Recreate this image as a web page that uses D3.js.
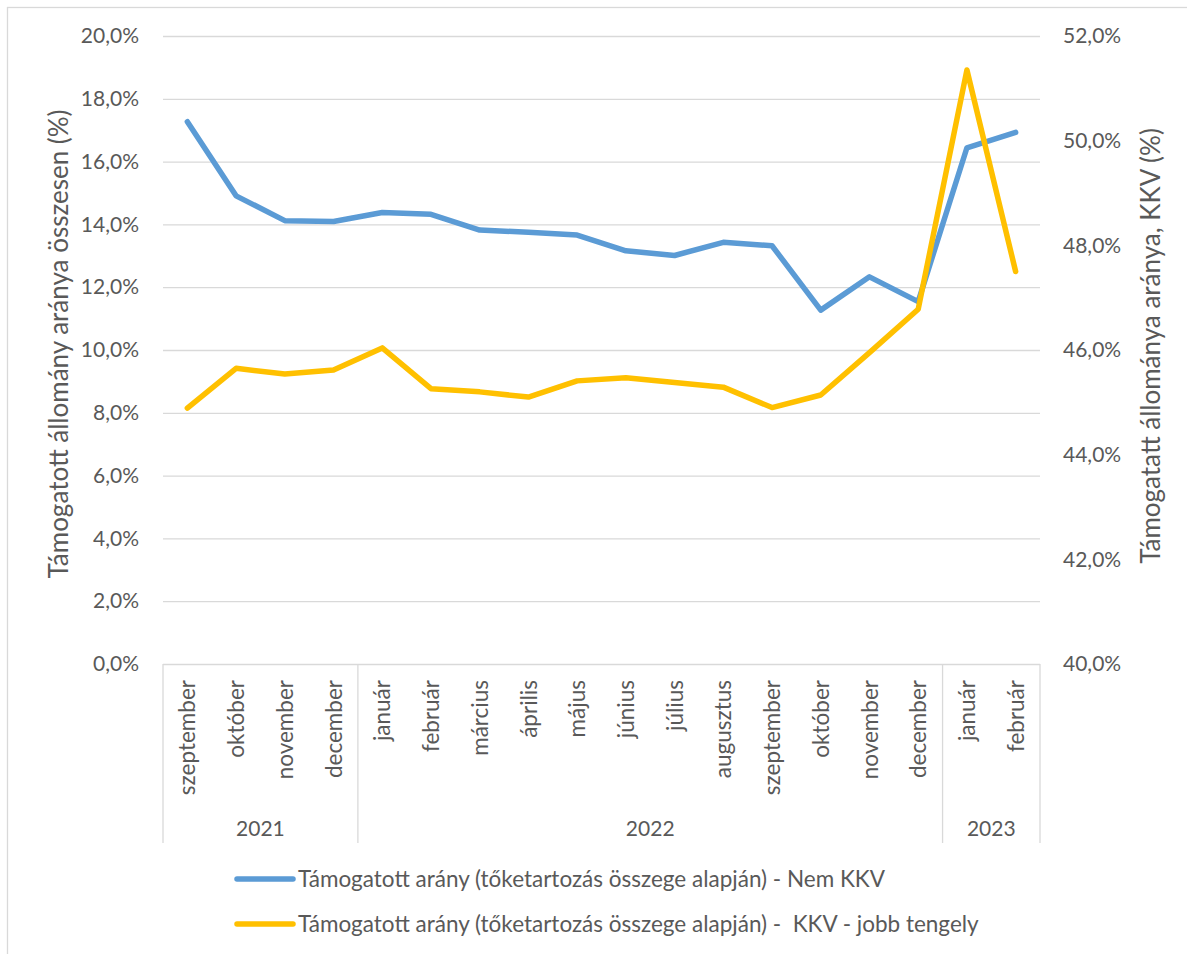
<!DOCTYPE html>
<html>
<head>
<meta charset="UTF-8">
<title>Támogatott arány</title>
<script src="https://d3js.org/d3.v7.min.js"></script>
<style>
  body { margin: 0; background: #fff; font-family: Lato, "Open Sans", sans-serif; }
  svg { display: block; }
  text { fill: #595959; }
</style>
</head>
<body>
<svg width="1187" height="954"></svg>
<script>
// months on the category axis, grouped by year
const monthLabels = ["szeptember", "október", "november", "december",
  "január", "február", "március", "április", "május", "június", "július",
  "augusztus", "szeptember", "október", "november", "december",
  "január", "február"];
const yearLabels = ["2021", "2022", "2023"];
const yearCounts = [4, 12, 2];

// left axis series (%)
const nemKkv = [17.27, 14.91, 14.12, 14.09, 14.38, 14.32, 13.82, 13.75, 13.66,
  13.16, 13.01, 13.43, 13.32, 11.27, 12.33, 11.54, 16.44, 16.93];
// right axis series (%)
const kkv = [44.89, 45.65, 45.54, 45.62, 46.04, 45.26, 45.20, 45.10, 45.41,
  45.47, 45.38, 45.29, 44.90, 45.14, 45.95, 46.78, 51.35, 47.50];

const leftTicks = [0, 2, 4, 6, 8, 10, 12, 14, 16, 18, 20];
const rightTicks = [40, 42, 44, 46, 48, 50, 52];

const seriesNames = [
  "Támogatott arány (tőketartozás összege alapján) - Nem KKV",
  "Támogatott arány (tőketartozás összege alapján) -  KKV - jobb tengely"
];
const colors = ["#5B9BD5", "#FFC000"];

const width = 1187, height = 954;
const x0 = 163, x1 = 1040, yTop = 36, yBot = 664;
const fsTick = 21, fsMonth = 22.5, fsLegend = 22.5, fsTitle = 26;

const svg = d3.select("svg");
const hu = d3.formatLocale({ decimal: ",", thousands: " ", grouping: [3], currency: ["", " Ft"] });
const fmt = d => hu.format(".1f")(d) + "%";

// chart border
svg.append("rect")
  .attr("x", 7.5).attr("y", 7.5)
  .attr("width", width + 20).attr("height", height + 20)
  .attr("fill", "none").attr("stroke", "#D9D9D9").attr("stroke-width", 1.3);

let x = d3.scaleBand().domain(d3.range(monthLabels.length)).range([x0, x1]);
let yL = d3.scaleLinear().domain([0, 20]).range([yBot, yTop]);
let yR = d3.scaleLinear().domain([40, 52]).range([yBot, yTop]);

// left axis + gridlines
let gL = svg.append("g")
  .attr("transform", `translate(${x0},0)`)
  .call(d3.axisLeft(yL).tickValues(leftTicks).tickFormat(fmt)
    .tickSize(-(x1 - x0)).tickPadding(24));
gL.select(".domain").remove();
gL.selectAll("line").attr("stroke", "#D9D9D9").attr("stroke-width", 1.3);
gL.selectAll("text").style("font-size", fsTick + "px").style("font-family", "Lato").attr("fill", "#595959");

// right axis
let gR = svg.append("g")
  .attr("transform", `translate(${x1},0)`)
  .call(d3.axisRight(yR).tickValues(rightTicks).tickFormat(fmt)
    .tickSize(0).tickPadding(23));
gR.select(".domain").remove();
gR.selectAll("text").style("font-size", fsTick + "px").style("font-family", "Lato").attr("fill", "#595959");

// category axis: month labels
svg.append("g").selectAll("text")
  .data(monthLabels)
  .join("text")
  .attr("transform", (d, i) => `translate(${x(i) + x.bandwidth() / 2},680) rotate(-90)`)
  .attr("dy", "0.36em")
  .attr("text-anchor", "end")
  .style("font-size", fsMonth + "px")
  .text(d => d);

// year groups
let starts = [0];
yearCounts.forEach((c, i) => starts.push(starts[i] + c));
let divX = starts.map(s => s < monthLabels.length ? x(s) : x1);

svg.append("g").selectAll("line")
  .data(divX)
  .join("line")
  .attr("x1", d => d).attr("x2", d => d)
  .attr("y1", yBot).attr("y2", 843)
  .attr("stroke", "#D9D9D9").attr("stroke-width", 1.3);

svg.append("g").selectAll("text")
  .data(yearLabels)
  .join("text")
  .attr("x", (d, i) => (divX[i] + divX[i + 1]) / 2)
  .attr("y", 836)
  .attr("text-anchor", "middle")
  .style("font-size", fsTick + "px")
  .text(d => d);

// lines
let lineL = d3.line().x((d, i) => x(i) + x.bandwidth() / 2).y(d => yL(d));
let lineR = d3.line().x((d, i) => x(i) + x.bandwidth() / 2).y(d => yR(d));

svg.append("path").datum(nemKkv)
  .attr("d", lineL).attr("fill", "none")
  .attr("stroke", colors[0]).attr("stroke-width", 5.5)
  .attr("stroke-linejoin", "round").attr("stroke-linecap", "round");

svg.append("path").datum(kkv)
  .attr("d", lineR).attr("fill", "none")
  .attr("stroke", colors[1]).attr("stroke-width", 5.5)
  .attr("stroke-linejoin", "round").attr("stroke-linecap", "round");

// axis titles
svg.append("text")
  .attr("transform", `translate(68,${(yTop + yBot) / 2 - 6}) rotate(-90)`)
  .attr("text-anchor", "middle")
  .style("font-size", fsTitle + "px")
  .text("Támogatott állomány aránya összesen (%)");

svg.append("text")
  .attr("transform", `translate(1160,346) rotate(-90)`)
  .attr("text-anchor", "middle")
  .style("font-size", fsTitle + "px")
  .text("Támogatatt állománya aránya, KKV (%)");

// legend
let legend = svg.append("g").selectAll("g")
  .data(seriesNames)
  .join("g")
  .attr("transform", (d, i) => `translate(237,${879 + i * 45})`);

legend.append("line")
  .attr("x1", 0).attr("x2", 56)
  .attr("stroke", (d, i) => colors[i]).attr("stroke-width", 5.5)
  .attr("stroke-linecap", "round");

legend.append("text")
  .attr("x", 61).attr("dy", "0.35em")
  .style("font-size", fsLegend + "px")
  .style("white-space", "pre")
  .text(d => d);
</script>
</body>
</html>
